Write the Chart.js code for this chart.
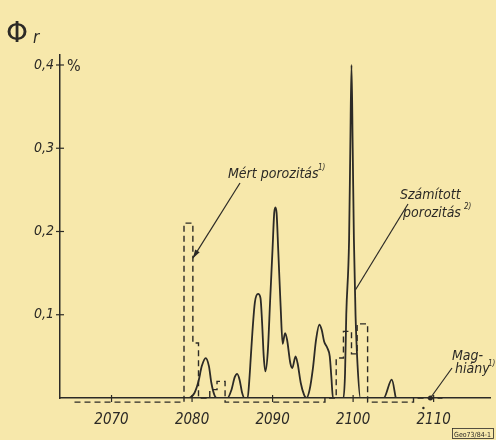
<!DOCTYPE html>
<html>
<head>
<meta charset="utf-8">
<script src="https://cdn.jsdelivr.net/npm/chart.js@4.4.0/dist/chart.umd.min.js"></script>
<style>
html, body { margin: 0; padding: 0; background: #f7e8ab; }
#wrap { width: 496px; height: 440px; }
</style>
</head>
<body>
<div id="wrap"><canvas id="chart" width="496" height="440"></canvas></div>
<script>
const xTicks = [2070, 2080, 2090, 2100, 2110];
const yTicks = [0.1, 0.2, 0.3, 0.4];

// Számított porozitás (solid curve)
const calcDepth = [2079.7, 2080.3, 2080.8, 2081.2, 2081.7, 2082.1, 2082.4, 2082.8, 2083.1,
    2084.4, 2084.9, 2085.3, 2085.6, 2085.9, 2086.2, 2086.5,
    2086.9, 2087.1, 2087.3, 2087.5, 2087.8, 2088.2, 2088.5, 2088.7, 2088.9, 2089.1,
    2089.4, 2089.7, 2090.0, 2090.2, 2090.35, 2090.5, 2090.7, 2091.0, 2091.25,
    2091.55, 2091.8, 2092.2, 2092.45, 2092.85, 2093.1, 2093.5, 2093.9, 2094.2,
    2094.6, 2095.0, 2095.4, 2095.8, 2096.1, 2096.4, 2096.8, 2097.1, 2097.3, 2097.5,
    2098.8, 2099.0, 2099.15, 2099.5, 2099.65, 2099.8, 2099.95, 2100.1, 2100.3, 2100.55, 2100.9,
    2103.8, 2104.8, 2105.3];
const calcPoro = [0, 0.006, 0.02, 0.038, 0.048, 0.038, 0.018, 0.003, 0,
    0, 0.01, 0.025, 0.029, 0.022, 0.007, 0,
    0, 0.02, 0.05, 0.08, 0.115, 0.125, 0.12, 0.09, 0.05, 0.032,
    0.055, 0.118, 0.18, 0.222, 0.229, 0.222, 0.178, 0.11, 0.065,
    0.078, 0.07, 0.042, 0.036, 0.05, 0.042, 0.018, 0.004, 0,
    0.01, 0.035, 0.07, 0.088, 0.082, 0.068, 0.06, 0.05, 0.025, 0,
    0, 0.03, 0.1, 0.19, 0.3, 0.40, 0.3, 0.19, 0.1, 0.04, 0,
    0, 0.022, 0];

// Mért porozitás (dashed steps)
const measDepth = [2065.4, 2079.0, 2079.0, 2080.1, 2080.1, 2080.8, 2080.8, 2082.2, 2082.2, 2083.1,
    2083.1, 2084.1, 2084.1, 2096.5, 2096.5, 2097.9, 2097.9, 2098.8, 2098.8, 2099.8,
    2099.8, 2100.5, 2100.5, 2101.8, 2101.8, 2107.5, 2107.5, 2111.1];
const measPoro = [-0.005, -0.005, 0.21, 0.21, 0.066, 0.066, 0, 0, 0.01, 0.01,
    0.02, 0.02, -0.005, -0.005, 0, 0, 0.048, 0.048, 0.08, 0.08,
    0.053, 0.053, 0.089, 0.089, -0.005, -0.005, 0, 0];

const ink = '#2c2a26';
const handFont = "'DejaVu Sans Condensed', 'Liberation Sans Narrow', 'DejaVu Sans', sans-serif";

const zip = (xs, ys) => xs.map((x, i) => ({ x: x, y: ys[i] }));

const annotations = {
    id: 'annotations',
    afterDraw(chart) {
        const ctx = chart.ctx;
        const xs = chart.scales.x, ys = chart.scales.y;
        const area = chart.chartArea;
        ctx.save();
        ctx.strokeStyle = ink;
        ctx.fillStyle = ink;
        ctx.lineWidth = 1.2;

        // tick marks crossing the axes
        xTicks.forEach(v => {
            const px = xs.getPixelForValue(v);
            ctx.beginPath(); ctx.moveTo(px, area.bottom - 3); ctx.lineTo(px, area.bottom + 4); ctx.stroke();
        });
        yTicks.forEach(v => {
            const py = ys.getPixelForValue(v);
            ctx.beginPath(); ctx.moveTo(area.left - 4, py); ctx.lineTo(area.left + 4, py); ctx.stroke();
        });

        // Φr and %
        ctx.font = "28px 'DejaVu Sans', sans-serif";
        ctx.fillText('Φ', 6, 42);
        ctx.font = "italic 17px " + handFont;
        ctx.fillText('r', 33, 43);
        ctx.font = "16px " + handFont;
        ctx.fillText('%', 67, 71);

        // labels
        ctx.font = "italic 14px " + handFont;
        ctx.fillText('Mért porozitás', 228, 178);
        ctx.fillText('Számított', 400, 199);
        ctx.fillText('porozitás', 403, 217);
        ctx.fillText('Mag-', 452, 360);
        ctx.fillText('hiány', 455, 373);
        ctx.font = "italic 8px " + handFont;
        ctx.fillText('1)', 318, 170);
        ctx.fillText('2)', 464, 209);
        ctx.fillText('1)', 488, 366);

        // leader lines
        const line = (x1, y1, x2, y2) => {
            ctx.beginPath(); ctx.moveTo(x1, y1); ctx.lineTo(x2, y2); ctx.stroke();
        };
        let ex = xs.getPixelForValue(2080.1), ey = ys.getPixelForValue(0.168);
        line(240, 183, ex, ey);
        const ang = Math.atan2(ey - 183, ex - 240);
        ctx.beginPath();
        ctx.moveTo(ex, ey);
        ctx.lineTo(ex - 9 * Math.cos(ang - 0.3), ey - 9 * Math.sin(ang - 0.3));
        ctx.lineTo(ex - 9 * Math.cos(ang + 0.3), ey - 9 * Math.sin(ang + 0.3));
        ctx.closePath(); ctx.fill();

        line(408, 204, xs.getPixelForValue(2100.3), ys.getPixelForValue(0.13));

        ex = xs.getPixelForValue(2109.6); ey = ys.getPixelForValue(0);
        line(452, 368, ex, ey);
        ctx.beginPath(); ctx.arc(ex, ey, 2.5, 0, Math.PI * 2); ctx.fill();
        ctx.beginPath(); ctx.arc(ex - 7, ey + 10, 1.2, 0, Math.PI * 2); ctx.fill();

        // drawing number
        ctx.lineWidth = 0.8;
        ctx.strokeRect(452.5, 428.5, 41, 10);
        ctx.font = "7px " + handFont;
        ctx.fillText('Geo73/84-1', 454, 436.5);
        ctx.restore();
    }
};

new Chart(document.getElementById('chart'), {
    type: 'line',
    data: {
        datasets: [{
            label: 'Számított porozitás',
            data: zip(calcDepth, calcPoro),
            borderColor: ink,
            borderWidth: 1.8,
            pointRadius: 0,
            cubicInterpolationMode: 'monotone',
            fill: false
        }, {
            label: 'Mért porozitás',
            data: zip(measDepth, measPoro),
            borderColor: ink,
            borderWidth: 1.4,
            borderDash: [6, 4],
            pointRadius: 0,
            tension: 0,
            clip: false,
            fill: false
        }]
    },
    plugins: [annotations],
    options: {
        responsive: false,
        animation: false,
        layout: { padding: { left: 0, top: 55, right: 6, bottom: 0 } },
        plugins: { legend: { display: false }, tooltip: { enabled: false } },
        scales: {
            x: {
                type: 'linear',
                min: 2063.6,
                max: 2117,
                afterBuildTicks: s => { s.ticks = xTicks.map(v => ({ value: v })); },
                afterFit: s => { s.height = 42; },
                grid: { display: false, drawTicks: false },
                border: { display: true, color: ink, width: 1.5 },
                ticks: {
                    color: ink,
                    padding: 13,
                    font: { family: handFont, size: 15, style: 'italic' },
                    callback: v => String(v)
                }
            },
            y: {
                min: 0,
                max: 0.412,
                afterBuildTicks: s => { s.ticks = yTicks.map(v => ({ value: v })); },
                afterFit: s => { s.width = 60; },
                grid: { display: false, drawTicks: false },
                border: { display: true, color: ink, width: 1.5 },
                ticks: {
                    color: ink,
                    padding: 6,
                    font: { family: handFont, size: 14, style: 'italic' },
                    callback: v => v.toFixed(1).replace('.', ',')
                }
            }
        }
    }
});
</script>
</body>
</html>
